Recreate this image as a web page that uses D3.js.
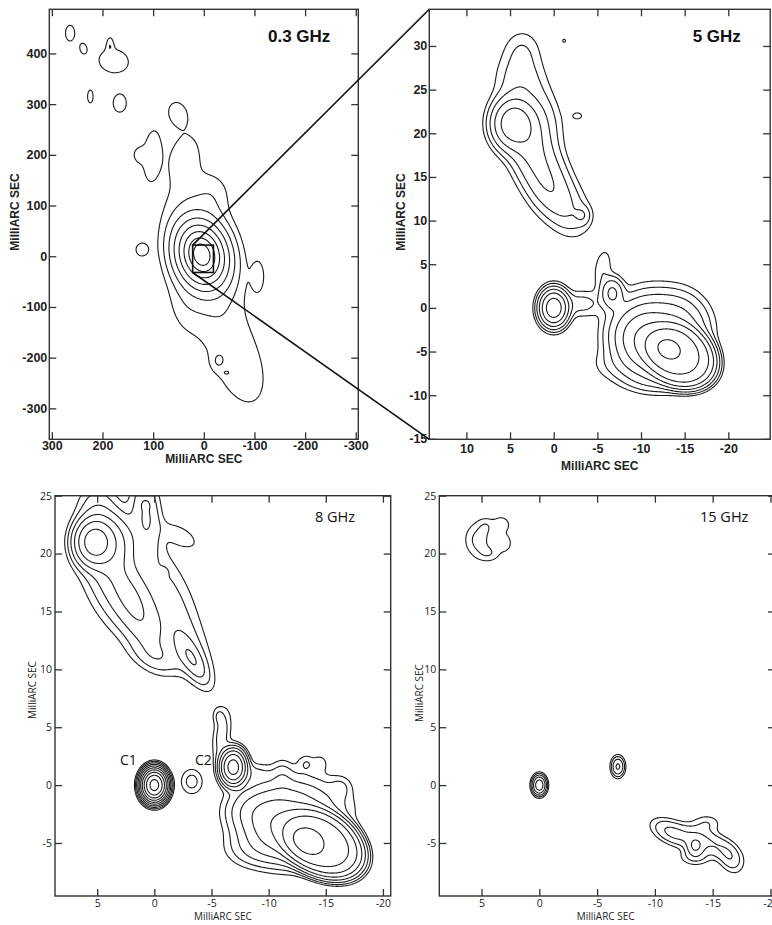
<!DOCTYPE html>
<html><head><meta charset="utf-8">
<script src="https://cdn.jsdelivr.net/npm/d3@7"></script>
<style>body{margin:0;background:#fff}</style>
</head><body><svg id="c" width="772" height="925" xmlns="http://www.w3.org/2000/svg"></svg>
<script>
// ---------- DATA ----------
// source components: [x (mas, east +), y (mas, north +), peak (units of lowest contour), sizeMajor, sizeMinor, PA (deg), profile]
// profile: 1 = exponential, 2 = gaussian, 4 = flat-topped (super-gaussian)
const comps03 = [
  [4, 3, 425, 17.5, 13, 15, 1],
  [0, -5, 1.8, 136, 45, 15, 2],
  [35, 200, 1.2, 35, 22, -10, 2],
  [-20, 125, 1.0, 30, 25, 0, 2],
  [-75, -220, 1.3, 75, 40, 20, 2],
  [-27.6, -207, 1.0, 12, 9, 0, 2],
  [-44, -230, 0.8, 6, 4, 90, 2],
  [40, -110, 0.8, 40, 25, 15, 2],
  [264, 440, 1.5, 17, 10, 0, 2],
  [238, 410, 1.4, 11, 7, 10, 2],
  [178, 385, 1.7, 28, 22, 80, 2],
  [185, 418, 1.4, 12, 5, 0, 2],
  [224, 315, 1.5, 14, 6, 0, 2],
  [166, 302, 1.6, 18, 13, 0, 2],
  [51, 282, 1.6, 20, 15, 20, 2],
  [103, 200, 1.5, 42, 14, -5, 2],
  [128, 200, 1.3, 12, 10, 0, 2],
  [123, 13, 1.4, 13, 12, 0, 2],
  [-108, -39, 1.3, 28, 11, 0, 2]
];
const comps5 = [
  [0, 0, 52, 1.1, 0.85, 0, 2],
  [-3.2, 0.5, 2.6, 1.5, 1.0, 90, 2],
  [-6.7, 1.7, 9, 1.05, 0.75, 0, 2],
  [-5.6, 4.6, 1.8, 1.6, 0.7, -10, 2],
  [-14.3, -5.4, 70, 3.2, 2.5, 60, 4],
  [-13.4, -4.85, 62, 1.3, 1.0, 60, 2],
  [-11, -4.2, 30, 2.2, 1.8, 60, 2],
  [-10.8, -2.6, 13, 2.2, 2.4, 90, 2],
  [-14.2, -2.6, 12, 2.0, 2.3, 90, 2],
  [-8.5, -6.5, 2.2, 2.5, 1.2, 90, 2],
  [-12, -8.2, 3, 2.5, 1, 90, 2],
  [4.7, 21.1, 24, 1.6, 1.35, 0, 2],
  [2.8, 20.6, 6, 2.0, 1.4, 10, 2],
  [3.9, 26.0, 3.0, 2.2, 1.8, 0, 2],
  [3.6, 29.7, 1.5, 1.4, 1.6, 90, 2],
  [2.6, 18.2, 4, 2.2, 1.6, 25, 2],
  [1.6, 16.0, 5, 2.6, 1.6, 25, 2],
  [0.3, 13.5, 4.5, 2.2, 1.5, 25, 2],
  [-1.8, 11, 2.6, 2.0, 1.5, 25, 2],
  [-3.3, 10.6, 2.5, 0.7, 0.6, 0, 2],
  [0.8, 22.5, 1.6, 2.5, 1.2, 20, 2],
  [-1.2, 30.6, 1.15, 0.35, 0.3, 0, 2],
  [-2.75, 22, 1.2, 0.7, 0.5, 90, 2]
];
const comps8 = [
  [0, 0, 700, 0.6, 0.48, 0, 2],
  [-3.27, 0.31, 2.6, 0.75, 0.65, 0, 2],
  [-6.9, 1.56, 90, 0.75, 0.55, 0, 2],
  [-5.9, 4.4, 2.8, 1.4, 0.5, -10, 2],
  [-5.6, 6.0, 1.6, 0.5, 0.35, 0, 2],
  [-14.6, -5.0, 90, 2.8, 1.9, 60, 4],
  [-13.35, -4.95, 80, 1.2, 0.9, 70, 2],
  [-10.8, -3.6, 25, 1.8, 1.5, 60, 2],
  [-12.2, -2.2, 10, 2.5, 1.7, 90, 2],
  [-8.8, -5.5, 3, 1.6, 1.0, 90, 2],
  [-8.2, -2.2, 3, 1.0, 1.2, 0, 2],
  [-8.3, 1.0, 2, 1.2, 0.6, 90, 2],
  [-13.3, 1.9, 1.6, 0.5, 0.5, 0, 2],
  [-14.5, 1.9, 1.5, 0.45, 0.4, 0, 2],
  [-11.2, 0.8, 1.8, 0.9, 0.6, 0, 2],
  [-16.3, -0.2, 1.6, 0.6, 0.6, 0, 2],
  [5.25, 21.0, 45, 1.05, 0.9, 0, 2],
  [3.8, 20.9, 10, 1.5, 1.2, 0, 2],
  [2.8, 17.5, 5, 2.5, 1.2, 30, 2],
  [1.2, 14.5, 5, 2.5, 1.0, 25, 2],
  [0.7, 23.5, 4, 2.2, 0.8, 5, 2],
  [0.75, 24.2, 1.2, 0.25, 0.25, 0, 2],
  [-0.8, 18.4, 1.2, 0.25, 0.25, 0, 2],
  [-3.3, 10.9, 6, 1.3, 0.5, 30, 2],
  [-2.8, 11.8, 2.5, 2.5, 1.0, 30, 2],
  [-1.5, 16.5, 2.2, 3.5, 1.2, 25, 2],
  [-2.3, 21.5, 1.8, 1.2, 0.6, 60, 2],
  [5.0, 23.8, 3, 1.5, 1.1, 0, 2],
  [-0.3, 11.0, 2.2, 1.5, 0.8, 70, 2],
  [3.5, 16.5, 2.5, 3, 1.5, 30, 2]
];
const comps15 = [
  [0, 0, 26, 0.45, 0.32, 0, 2],
  [-6.8, 1.6, 9, 0.5, 0.33, 0, 2],
  [5.3, 21.2, 2.4, 1.0, 0.8, 0, 2],
  [4.3, 20.0, 1.6, 0.7, 0.5, 90, 2],
  [3.2, 22.6, 1.5, 0.6, 0.5, 60, 2],
  [2.9, 20.9, 1.4, 0.6, 0.45, 0, 2],
  [4.6, 22.4, 1.3, 0.5, 0.5, 0, 2],
  [3.8, 21.3, 0.9, 0.5, 0.5, 0, 2],
  [-13.5, -5.3, 7, 0.5, 0.45, 0, 2],
  [-12.5, -4.4, 3.5, 1.6, 0.6, 70, 2],
  [-15.0, -5.0, 3.0, 1.5, 0.6, 60, 2],
  [-16.5, -6.3, 3.0, 0.9, 0.6, 30, 2],
  [-11.2, -4.0, 2.2, 1.0, 0.6, 60, 2],
  [-13.5, -6.2, 2.2, 0.9, 0.5, 90, 2],
  [-14.5, -3.3, 1.8, 0.8, 0.5, 90, 2]
];
// contour levels (multiples of the lowest contour)
const levels03 = [1, 2, 4, 8, 16, 32, 64, 128];
const levels5 = [1, 2, 4, 8, 16, 32, 64, 128];
const levels8 = [1, 2, 4, 8, 16, 32, 64, 128, 256, 512];
const levels15 = [1, 2, 4, 8, 16];
// axis ticks
const xTicks03 = [300, 200, 100, 0, -100, -200, -300];
const yTicks03 = [-300, -200, -100, 0, 100, 200, 300, 400];
const xTicks5 = [10, 5, 0, -5, -10, -15, -20];
const yTicks5 = [-15, -10, -5, 0, 5, 10, 15, 20, 25, 30];
const xTicksHi = [5, 0, -5, -10, -15, -20];
const yTicksHi = [-5, 0, 5, 10, 15, 20, 25];
// panel titles, component labels (mas in 8 GHz map), zoom box (mas in 0.3 GHz map)
const titles = ["0.3 GHz", "5 GHz", "8 GHz", "15 GHz"];
const compLabels = [["C1", 3.0, 1.76], ["C2", -3.56, 1.76]];
const zoomBoxX = [22, -19];
const zoomBoxY = [22, -32];

// ---------- RENDER ----------
const svg = d3.select('#c');
svg.append('rect').attr('width', 772).attr('height', 925).attr('fill', '#fff');

function field(comps, xs, ys, x0, y0, w, h) {
  const vals = new Float64Array(w * h);
  const X = new Float64Array(w), Y = new Float64Array(h);
  for (let i = 0; i < w; i++) X[i] = xs.invert(x0 + i + 0.5);
  for (let j = 0; j < h; j++) Y[j] = ys.invert(y0 + j + 0.5);
  for (const [cx, cy, A, sa, sb, pa, shape] of comps) {
    const t = pa * Math.PI / 180, s = Math.sin(t), c = Math.cos(t);
    const L = Math.log(A / 0.005);
    const rmax = shape === 1 ? sa * L : sa * Math.pow(2 * L, 1 / shape);
    for (let j = 0; j < h; j++) {
      const dy = Y[j] - cy; if (Math.abs(dy) > rmax) continue;
      for (let i = 0; i < w; i++) {
        const dx = X[i] - cx; if (Math.abs(dx) > rmax) continue;
        const u = (dx * s + dy * c) / sa, v = (dx * c - dy * s) / sb;
        const q = u * u + v * v;
        let f;
        if (shape === 1) f = Math.exp(-Math.sqrt(q));
        else if (shape === 2) f = Math.exp(-0.5 * q);
        else f = Math.exp(-0.5 * Math.pow(q, shape / 2));
        vals[j * w + i] += A * f;
      }
    }
  }
  return vals;
}

const panels = [
  {id: 'p03', x0: 49.3, x1: 358.3, y0: 9.3, y1: 439.3, xd: [305, -305], yd: [-361, 487],
   comps: comps03, levels: levels03, xt: xTicks03, yt: yTicks03, bold: true, title: titles[0],
   tx: 268, ty: 42, fs: 12.5, xlabY: 450, xtitleY: 463, ytitleX: 19, ytitleY: 212},
  {id: 'p5', x0: 429.3, x1: 770.2, y0: 9.3, y1: 439.3, xd: [14.25, -24.8], yd: [-15.05, 34.2],
   comps: comps5, levels: levels5, xt: xTicks5, yt: yTicks5, bold: true, title: titles[1],
   tx: 692.7, ty: 42, fs: 12.5, xlabY: 453, xtitleY: 470, ytitleX: 405, ytitleY: 212},
  {id: 'p8', x0: 55, x1: 390.7, y0: 495.7, y1: 896, xd: [8.69, -20.68], yd: [-9.58, 25],
   comps: comps8, levels: levels8, xt: xTicksHi, yt: yTicksHi, bold: false, title: titles[2],
   tx: 315, ty: 522, fs: 10.5, xlabY: 906.5, xtitleY: 920, ytitleX: 36, ytitleY: 690},
  {id: 'p15', x0: 439.3, x1: 775, y0: 495.7, y1: 896, xd: [8.65, -20.39], yd: [-9.58, 25],
   comps: comps15, levels: levels15, xt: xTicksHi, yt: yTicksHi, bold: false, title: titles[3],
   tx: 700, ty: 522, fs: 10.5, xlabY: 906.5, xtitleY: 920, ytitleX: 423, ytitleY: 693}
];

const scales = {};
panels.forEach(p => {
  const xs = d3.scaleLinear().domain(p.xd).range([p.x0, p.x1]);
  const ys = d3.scaleLinear().domain(p.yd).range([p.y1, p.y0]);
  scales[p.id] = {xs, ys};
  const fam = p.bold ? "'Liberation Sans', Arial, sans-serif" : "'Open Sans', 'Noto Sans', sans-serif";
  const weight = p.bold ? 'bold' : 'normal';
  const g = svg.append('g');
  g.append('clipPath').attr('id', 'clip-' + p.id).append('rect')
    .attr('x', p.x0).attr('y', p.y0).attr('width', p.x1 - p.x0).attr('height', p.y1 - p.y0);
  const w = Math.ceil(p.x1 - p.x0), h = Math.ceil(p.y1 - p.y0);
  const vals = field(p.comps, xs, ys, p.x0, p.y0, w, h);
  const cs = d3.contours().size([w, h]).thresholds(p.levels)(vals);
  g.append('g').attr('clip-path', `url(#clip-${p.id})`)
    .append('g').attr('transform', `translate(${p.x0},${p.y0})`)
    .selectAll('path').data(cs).join('path')
    .attr('d', d3.geoPath())
    .attr('fill', 'none').attr('stroke', '#1a1a1a').attr('stroke-width', 1.1).attr('stroke-linejoin', 'round');

  g.append('rect').attr('x', p.x0).attr('y', p.y0).attr('width', p.x1 - p.x0).attr('height', p.y1 - p.y0)
    .attr('fill', 'none').attr('stroke', '#333').attr('stroke-width', 1.4);
  const fmt = d => String(d);
  const styleAxis = sel => {
    sel.select('.domain').remove();
    sel.selectAll('.tick line').attr('stroke', '#333').attr('stroke-width', 1.3);
    sel.selectAll('text').attr('fill', '#222').attr('font-family', fam).attr('font-weight', weight)
      .attr('font-size', p.fs);
  };
  const gb = g.append('g').attr('transform', `translate(0,${p.y1})`)
    .call(d3.axisBottom(xs).tickValues(p.xt).tickSize(-7).tickFormat(fmt).tickPadding(0));
  styleAxis(gb);
  gb.selectAll('text').attr('y', p.xlabY - p.y1).attr('dy', null);
  const gt = g.append('g').attr('transform', `translate(0,${p.y0})`)
    .call(d3.axisTop(xs).tickValues(p.xt).tickSize(-7).tickFormat(''));
  styleAxis(gt);
  const gl = g.append('g').attr('transform', `translate(${p.x0},0)`)
    .call(d3.axisLeft(ys).tickValues(p.yt).tickSize(-7).tickFormat(fmt).tickPadding(p.bold ? 2 : 3));
  styleAxis(gl);
  const gr = g.append('g').attr('transform', `translate(${p.x1},0)`)
    .call(d3.axisRight(ys).tickValues(p.yt).tickSize(-7).tickFormat(''));
  styleAxis(gr);

  g.append('text').attr('x', (p.x0 + Math.min(p.x1, 772)) / 2).attr('y', p.xtitleY)
    .attr('text-anchor', 'middle').attr('font-family', fam).attr('font-weight', weight)
    .attr('font-size', p.bold ? 12 : 10).attr('fill', '#222').text('MilliARC SEC');
  g.append('text').attr('transform', `translate(${p.ytitleX},${p.ytitleY}) rotate(-90)`)
    .attr('text-anchor', 'middle').attr('font-family', fam).attr('font-weight', weight)
    .attr('font-size', p.bold ? 12 : 10).attr('fill', '#222').text('MilliARC SEC');
  g.append('text').attr('x', p.tx).attr('y', p.ty).attr('font-family', fam).attr('font-weight', weight)
    .attr('font-size', p.bold ? 17 : 14.5).attr('fill', '#111').text(p.title);
});

const s8 = scales['p8'];
svg.selectAll('text.cl').data(compLabels).join('text').attr('class', 'cl')
  .attr('x', d => s8.xs(d[1])).attr('y', d => s8.ys(d[2]))
  .attr('font-family', "'Open Sans', 'Noto Sans', sans-serif").attr('font-size', 14).attr('fill', '#111')
  .text(d => d[0]);

const s03 = scales['p03'];
const bx0 = s03.xs(zoomBoxX[0]), bx1 = s03.xs(zoomBoxX[1]);
const by0 = s03.ys(zoomBoxY[0]), by1 = s03.ys(zoomBoxY[1]);
svg.append('rect').attr('x', bx0).attr('y', by0).attr('width', bx1 - bx0).attr('height', by1 - by0)
  .attr('fill', 'none').attr('stroke', '#111').attr('stroke-width', 1.6);
const p5 = panels[1];
svg.append('line').attr('x1', bx0).attr('y1', by0).attr('x2', p5.x0).attr('y2', p5.y0)
  .attr('stroke', '#111').attr('stroke-width', 1.6);
svg.append('line').attr('x1', bx0).attr('y1', by1).attr('x2', p5.x0).attr('y2', p5.y1)
  .attr('stroke', '#111').attr('stroke-width', 1.6);
</script>
</body></html>
